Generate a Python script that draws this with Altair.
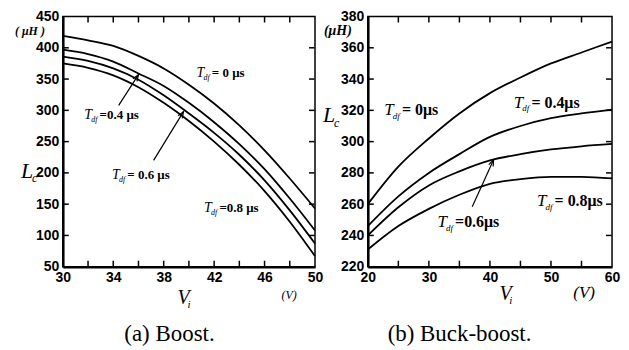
import altair as alt
import pandas as pd

# ---------------- data ----------------
boost_v = [30, 32, 34, 36, 38, 40, 42, 44, 46, 48, 50]
boost_t0 = [419, 412, 403, 387, 367, 341, 311, 276, 236, 191, 143]
boost_t04 = [397, 390, 378, 359, 339, 312, 281, 246, 206, 159, 108]
boost_t06 = [386, 379, 367, 349, 324, 295, 264, 229, 188, 140, 87]
boost_t08 = [375, 368, 356, 337, 312, 283, 250, 213, 171, 122, 67]

bb_v = [20, 25, 30, 35, 40, 45, 50, 55, 60]
bb_t0 = [260, 284, 302, 318, 331, 341, 350, 357, 364]
bb_t04 = [246, 265, 280, 292, 303, 310, 315, 318, 320.5]
bb_t06 = [240, 258, 272, 281, 288, 292, 295, 297, 298.5]
bb_t08 = [231, 246, 257, 266, 273, 276, 277.5, 277.5, 276.5]

boost_xlabels = [30, 34, 38, 42, 46, 50]
boost_xticks = [32, 34, 36, 38, 40, 42, 44, 46, 48]
boost_yticks = [50, 100, 150, 200, 250, 300, 350, 400, 450]
boost_yminor = [100, 150, 200, 250, 300, 350, 400]
bb_xlabels = [20, 30, 40, 50, 60]
bb_xticks = [25, 30, 35, 40, 45, 50, 55]
bb_yticks = [220, 240, 260, 280, 300, 320, 340, 360, 380]
bb_yminor = [240, 260, 280, 300, 320, 340, 360]

# annotations (data coordinates)
boost_ann_x = [40.6, 31.7, 33.9, 41.2]
boost_ann_y = [360, 293, 196, 144]
boost_ann_txt = ["= 0 \u03bcs", "=0.4 \u03bcs", "= 0.6 \u03bcs", "=0.8 \u03bcs"]
boost_arrows = [(34.43, 308, 36.0, 357, 33), (37.2, 220, 39.57, 298, 31)]

bb_ann_x = [22.7, 43.9, 31.4, 47.7]
bb_ann_y = [320, 325, 248.5, 262]
bb_ann_txt = ["= 0\u03bcs", "= 0.4\u03bcs", "=0.6\u03bcs", "= 0.8\u03bcs"]
bb_arrows = [(37.1, 258.3, 40.6, 288.4, 24)]

SERIF = "Liberation Serif, Times New Roman, serif"
SANS = "Liberation Sans, Arial, Helvetica, sans-serif"
TICK_PX = 6


def make_panel(W, H, xs, series, xdom, ydom, xlabels, xticks, yticks, yminor,
               ann_x, ann_y, ann_txt, arrows, fs_t, fs_sub, fs_rest,
               titles, caption, anchor=None):
    xscale = alt.Scale(domain=xdom, nice=False, zero=False)
    yscale = alt.Scale(domain=ydom, nice=False, zero=False)
    X = alt.X("x:Q", scale=xscale,
              axis=alt.Axis(values=xlabels, title=None, format="d"))
    Y = alt.Y("y:Q", scale=yscale,
              axis=alt.Axis(values=yticks, title=None, format="d"))

    rows = []
    for name, vals in series:
        for v, l in zip(xs, vals):
            rows.append({"x": v, "y": l, "s": name})
    df = pd.DataFrame(rows)
    layers = [
        alt.Chart(df).mark_line(color="black", strokeWidth=1.8,
                                interpolate="monotone")
        .encode(x=X, y=Y, detail="s:N")
    ]

    def seg(x1, y1, x2, y2, width):
        d = pd.DataFrame({"x": [float(x1)], "y": [float(y1)],
                          "x2": [float(x2)], "y2": [float(y2)]})
        return (alt.Chart(d).mark_rule(color="black", strokeWidth=width)
                .encode(x=X, y=Y, x2="x2:Q", y2="y2:Q"))

    # inward ticks on all four sides, one short segment per tick
    ry = ydom[1] - ydom[0]
    rx = xdom[1] - xdom[0]
    dy = ry * TICK_PX / H
    dx = rx * TICK_PX / W
    ey = ry * 0.002
    ex = rx * 0.002
    for v in xticks:
        layers.append(seg(v, ydom[0] + ey, v, ydom[0] + dy, 1.5))
        layers.append(seg(v, ydom[1] - ey, v, ydom[1] - dy, 1.5))
    for v in yminor:
        layers.append(seg(xdom[0] + ex, v, xdom[0] + dx, v, 1.5))
        layers.append(seg(xdom[1] - ex, v, xdom[1] - dx, v, 1.5))

    # T_df annotations
    for ax, ay, txt in zip(ann_x, ann_y, ann_txt):
        d = pd.DataFrame({"x": [ax], "y": [ay]})
        base = alt.Chart(d).encode(x=X, y=Y)
        layers.append(base.mark_text(text="T", font=SERIF, fontStyle="italic",
                                     fontSize=fs_t, align="left",
                                     baseline="middle", color="black"))
        layers.append(base.mark_text(text="df", font=SERIF, fontStyle="italic",
                                     fontSize=fs_sub, align="left",
                                     baseline="middle", color="black",
                                     dx=fs_t * 0.5, dy=fs_t * 0.35))
        layers.append(base.mark_text(text=txt, font=SERIF, fontWeight="bold",
                                     fontSize=fs_rest, align="left",
                                     baseline="middle", color="black",
                                     dx=fs_t * 0.5 + fs_sub * 0.8 + 2))

    # arrows
    for x1, y1, x2, y2, ang in arrows:
        layers.append(seg(x1, y1, x2, y2, 1.2))
        t = pd.DataFrame({"x": [x2], "y": [y2]})
        layers.append(alt.Chart(t).mark_point(
            shape="M-0.6,1.6L0,0L0.6,1.6", filled=False, size=64,
            angle=ang, color="black", strokeWidth=1.2, opacity=1)
            .encode(x=X, y=Y))

    # axis titles and caption (pixel positions relative to plot area)
    for txt, px, py, font, size, style, weight, align in titles:
        kw = dict(text=txt, font=font, fontSize=size, align=align,
                  baseline="alphabetic", color="black")
        if style:
            kw["fontStyle"] = style
        if weight:
            kw["fontWeight"] = weight
        layers.append(alt.Chart(pd.DataFrame({"a": [0]})).mark_text(**kw)
                      .encode(x=alt.value(px), y=alt.value(py)))
    cap_txt, cap_x, cap_y = caption
    layers.append(alt.Chart(pd.DataFrame({"a": [0]})).mark_text(
        text=cap_txt, font=SERIF, fontSize=23, align="center",
        baseline="alphabetic", color="black")
        .encode(x=alt.value(cap_x), y=alt.value(cap_y)))

    if anchor is not None:
        ax0, ay0 = anchor
        layers.append(alt.Chart(pd.DataFrame({"a": [0]})).mark_rule(
            color="white", strokeWidth=1)
            .encode(x=alt.value(ax0), x2=alt.value(ax0 + 1),
                    y=alt.value(ay0), y2=alt.value(ay0 + 1)))

    return alt.layer(*layers).properties(width=W, height=H)


H = 251
left = make_panel(
    253, H, boost_v,
    [("0", boost_t0), ("0.4", boost_t04), ("0.6", boost_t06), ("0.8", boost_t08)],
    [30, 50], [50, 450], boost_xlabels, boost_xticks, boost_yticks, boost_yminor,
    boost_ann_x, boost_ann_y, boost_ann_txt, boost_arrows, 14, 8, 13,
    [
        ("L", -42, 162, SERIF, 22, "italic", None, "left"),
        ("c", -31, 166, SERIF, 12, "italic", None, "left"),
        ("( \u03bcH )", -48, 19, SERIF, 12, "italic", "bold", "left"),
        ("V", 115, 288, SERIF, 20, "italic", None, "left"),
        ("i", 125, 292, SERIF, 11, "italic", None, "left"),
        ("(V)", 227, 283, SERIF, 12, "italic", None, "center"),
    ],
    ("(a) Boost.", 107, 326),
    anchor=(-53, -5),
)

right = make_panel(
    245, H, bb_v,
    [("0", bb_t0), ("0.4", bb_t04), ("0.6", bb_t06), ("0.8", bb_t08)],
    [20, 60], [220, 380], bb_xlabels, bb_xticks, bb_yticks, bb_yminor,
    bb_ann_x, bb_ann_y, bb_ann_txt, bb_arrows, 17, 9, 16,
    [
        ("L", -45, 106, SERIF, 22, "italic", None, "left"),
        ("c", -34, 111, SERIF, 12, "italic", None, "left"),
        ("(\u03bcH)", -44, 19, SERIF, 14, "italic", "bold", "left"),
        ("V", 132, 284, SERIF, 20, "italic", None, "left"),
        ("i", 142, 288, SERIF, 11, "italic", None, "left"),
        ("(V)", 217, 282, SERIF, 17, "italic", None, "center"),
    ],
    ("(b) Buck-boost.", 92, 326),
)

chart = (
    alt.hconcat(left, right, spacing=53, bounds="flush")
    .properties(padding=0)
    .configure_view(stroke="black", strokeWidth=1.5)
    .configure_axis(
        domainColor="black", domainWidth=2.5, ticks=False, grid=False,
        labelFont=SANS, labelFontWeight="bold", labelFontSize=14,
        labelColor="black", labelPadding=4, labelFlush=False,
        labelOverlap=False,
    )
)

chart.save("out.html", embed_options={"renderer": "svg", "actions": False})
